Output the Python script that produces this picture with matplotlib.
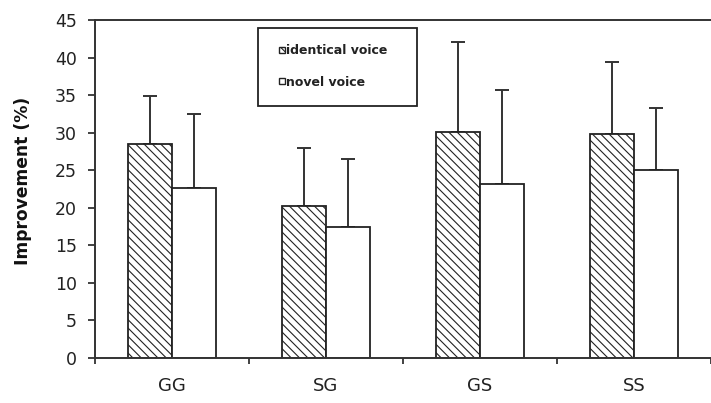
import matplotlib
matplotlib.use("Agg")
import matplotlib.pyplot as plt
import numpy as np
from matplotlib.patches import Patch, Rectangle

categories = ["GG", "SG", "GS", "SS"]
identical = [28.5, 20.2, 30.1, 29.8]
identical_err = [6.4, 7.7, 12.0, 9.6]
novel = [22.6, 17.5, 23.2, 25.0]
novel_err = [9.9, 9.0, 12.5, 8.3]
yticks = [0, 5, 10, 15, 20, 25, 30, 35, 40, 45]
series_names = ["identical voice", "novel voice"]

plt.rcParams['font.family'] = ['DejaVu Sans']
plt.rcParams['hatch.linewidth'] = 0.8
plt.rcParams['hatch.color'] = '#222222'

fig = plt.figure(figsize=(7.11, 4.03), dpi=100)
ax = fig.add_axes([95/711, 1-358/403, 1-95/711, (358-20)/403])

x = np.arange(len(categories))
w = 0.285
ec = '#222222'
ax.bar(x - w/2, identical, w, color='white', edgecolor=ec, linewidth=1.3,
       hatch='\\\\\\\\', zorder=2)
ax.bar(x + w/2, novel, w, color='white', edgecolor=ec, linewidth=1.3, zorder=2)
ax.errorbar(x - w/2, identical, yerr=[np.zeros(4), identical_err], fmt='none',
            ecolor='#333333', elinewidth=1.4, capsize=5, capthick=1.4, zorder=1)
ax.errorbar(x + w/2, novel, yerr=[np.zeros(4), novel_err], fmt='none',
            ecolor='#333333', elinewidth=1.4, capsize=5, capthick=1.4, zorder=1)

ax.set_xlim(-0.5, 3.5)
ax.set_ylim(0, 45)
ax.set_yticks(yticks)
ax.set_yticklabels([str(v) for v in yticks])
ax.set_xticks(np.arange(-0.5, 3.6, 1.0))
ax.set_xticklabels([])
ax.set_xticks(x, minor=True)
ax.set_xticklabels(categories, minor=True)
ax.tick_params(axis='x', which='minor', length=0, pad=13.5, labelsize=13, labelcolor='#222222')
ax.tick_params(axis='x', which='major', length=4, width=1.3, color='#333333')
ax.tick_params(axis='y', length=5, width=1.3, color='#333333', labelsize=12.5,
               labelcolor='#222222', pad=8)
for s in ax.spines.values():
    s.set_color('#333333')
    s.set_linewidth(1.4)
ax.spines['right'].set_visible(False)

ax.set_ylabel('Improvement (%)', fontsize=12.3, fontweight='bold', color='#111111')
ax.yaxis.set_label_coords(-0.103, 0.524)

# legend box
frame = Rectangle(((258-95)/616, (358-106)/338), 159/616, 78/338, transform=ax.transAxes,
                  facecolor='white', edgecolor='#222222', linewidth=1.3, zorder=5)
ax.add_patch(frame)
handles = [Patch(facecolor='white', edgecolor=ec, hatch='\\\\\\\\\\', linewidth=1.0),
           Patch(facecolor='white', edgecolor=ec, linewidth=1.0)]
leg = ax.legend(handles, series_names, loc='center left',
                bbox_to_anchor=((279-95)/616, (358-66.5)/338), frameon=False,
                fontsize=9, handlelength=0.45, handleheight=0.45, handletextpad=0.1,
                labelspacing=1.45, borderpad=0, borderaxespad=0)
leg.set_zorder(6)
for t in leg.get_texts():
    t.set_fontweight('bold')
    t.set_color('#222222')

fig.savefig('out.png', dpi=100)
